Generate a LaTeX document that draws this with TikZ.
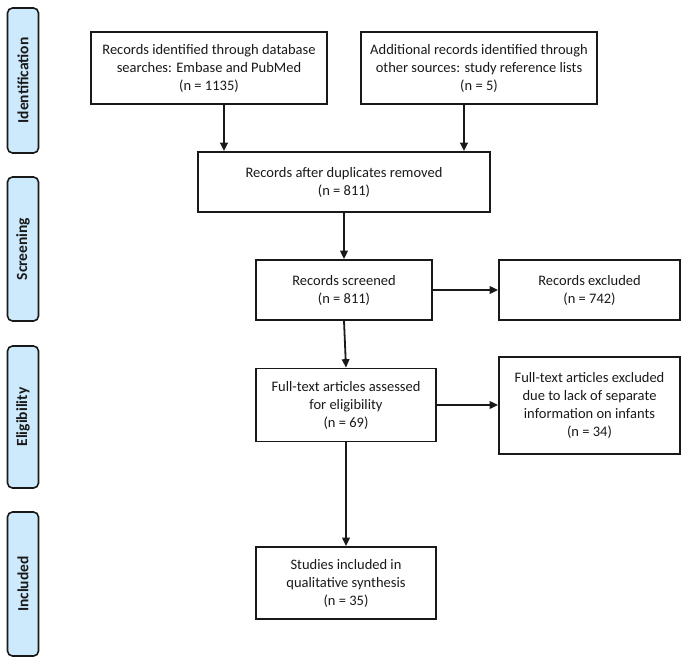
\documentclass[tikz,border=0pt]{standalone}
\usepackage{fontspec}
\setmainfont{Carlito}
\usetikzlibrary{arrows.meta}
\definecolor{barblue}{RGB}{205,233,252}
\definecolor{ink}{RGB}{25,25,25}
\begin{document}
\begin{tikzpicture}[x=1pt,y=-1pt,
  box/.style={draw=ink, line width=1.7pt, rectangle, align=center, inner sep=1pt,
    font=\fontsize{14.5}{18}\selectfont, text=ink},
  bar/.style={draw=ink, line width=1.6pt, fill=barblue, rounded corners=5pt, rectangle,
    minimum height=31pt, rotate=90, inner sep=0pt, text=ink,
    font=\bfseries\fontsize{15.5}{18}\selectfont},
  arr/.style={draw=ink, line width=1.8pt, -{Triangle[length=8.5pt,width=7.5pt]}},
  thickarr/.style={arr, line width=2.2pt}]
\useasboundingbox (0,0) rectangle (685,670);

% side bars
\node[bar, minimum width=145pt] (s1) at (23,80.5) {Identification};
\node[bar, minimum width=144pt] (s2) at (23,249) {Screening};
\node[bar, minimum width=142pt] (s3) at (23,417) {Eligibility};
\node[bar, minimum width=144pt] (s4) at (23,584) {Included};

% boxes
\node[box, minimum width=236pt, minimum height=72pt] (b1) at (209,68)
  {Records identified through database\\searches: Embase and PubMed\\(n = 1135)};
\node[box, minimum width=236pt, minimum height=72pt] (b2) at (479,68)
  {Additional records identified through\\other sources: study reference lists\\(n = 5)};
\node[box, minimum width=292pt, minimum height=60pt] (b3) at (344,182)
  {Records after duplicates removed\\(n = 811)};
\node[box, minimum width=176pt, minimum height=60pt] (b4) at (344,290)
  {Records screened\\(n = 811)};
\node[box, minimum width=181pt, minimum height=60pt] (e1) at (589.5,290)
  {Records excluded\\(n = 742)};
\node[box, minimum width=180pt, minimum height=73pt] (b5) at (346,405)
  {Full-text articles assessed\\for eligibility\\(n = 69)};
\node[box, minimum width=181pt, minimum height=97pt] (e2) at (589.5,405.5)
  {Full-text articles excluded\\due to lack of separate\\information on infants\\(n = 34)};
\node[box, minimum width=180pt, minimum height=72pt] (b6) at (346,583)
  {Studies included in\\qualitative synthesis\\(n = 35)};

% connectors
\draw[thickarr] ([xshift=15pt]b1.south) -- ([xshift=15pt]b1.south |- b3.north);
\draw[thickarr] ([xshift=-15pt]b2.south) -- ([xshift=-15pt]b2.south |- b3.north);
\draw[arr] (b3.south) -- (b4.north);
\draw[arr] (b4.south) -- (b5.north);
\draw[arr] (b5.south) -- (b6.north);
\draw[arr] (b4.east) -- (e1.west);
\draw[arr] (b5.east) -- (b5.east -| e2.west);
\end{tikzpicture}
\end{document}
